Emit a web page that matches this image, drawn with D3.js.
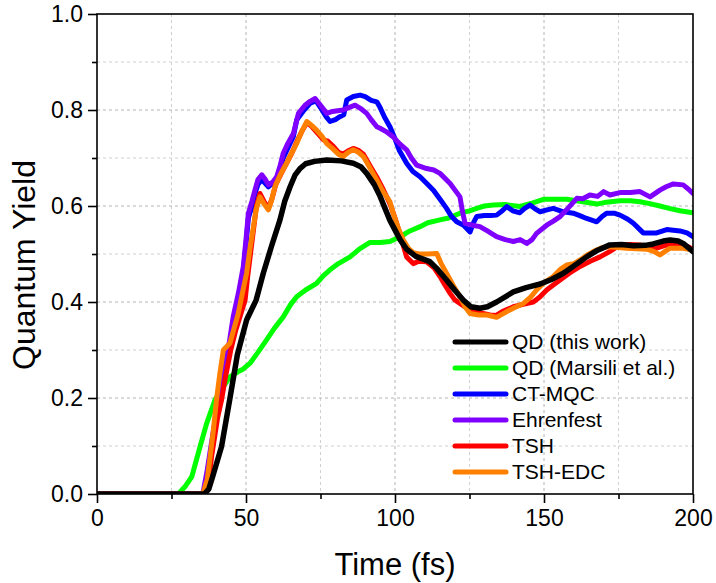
<!DOCTYPE html>
<html>
<head>
<meta charset="utf-8">
<script src="https://cdn.jsdelivr.net/npm/d3@7/dist/d3.min.js"></script>
<style>
  html, body { margin: 0; padding: 0; background: #fff; }
  svg { display: block; font-family: Arial, "Liberation Sans", sans-serif; }
</style>
</head>
<body>
<svg id="chart" width="716" height="583"></svg>
<script>
// ---- Data ----
const seriesNames = ["QD (this work)", "QD (Marsili et al.)", "CT-MQC", "Ehrenfest", "TSH", "TSH-EDC"];
const seriesColors = ["#000000", "#00ff00", "#0000ff", "#8000ff", "#ff0000", "#ff8000"];

const qdT = [0,36,37.5,39,41.8,44.6,47.1,50.2,53.4,55.8,58.5,61.4,63,64.8,66.5,68.1,70,73,77.1,82,86,88.5,90.5,93,95,98.3,101.7,103.9,107,111.7,114,117.3,120,122.9,125.5,128.5,131,134.1,139.7,144,148.7,152.5,156.5,160,164.3,168,172.1,176,180,184,186.7,190,192.3,195,196.7,200];
const qdV = [0,0,0.01,0.04,0.099,0.199,0.29,0.3625,0.404,0.46,0.515,0.571,0.61,0.64,0.665,0.678,0.688,0.693,0.696,0.694,0.689,0.682,0.668,0.645,0.62,0.57,0.53,0.51,0.495,0.484,0.47,0.446,0.425,0.404,0.39,0.387,0.39,0.40,0.421,0.43,0.4375,0.447,0.46,0.475,0.494,0.508,0.519,0.52,0.517,0.518,0.521,0.527,0.529,0.527,0.522,0.505];

const marT = [0,27.3,29.5,31.8,34.6,36.8,39.6,42,44.6,47.4,49,51.3,54,56.9,59.5,62.5,65,67,70,73.7,76,78.2,81,84.9,88,91.6,95,98.3,101.7,105,108.4,111,115.1,118,121.8,125,127.4,130,133,137,141.9,146,149.8,154,157.6,162,167.7,171,175.5,179,182.2,185.5,188.9,192,195.6,200];
const marV = [0,0,0.015,0.036,0.099,0.147,0.196,0.22,0.244,0.255,0.26,0.272,0.295,0.321,0.345,0.369,0.395,0.411,0.425,0.439,0.455,0.467,0.48,0.494,0.51,0.524,0.524,0.526,0.536,0.548,0.557,0.565,0.571,0.575,0.585,0.59,0.595,0.6,0.602,0.603,0.599,0.606,0.614,0.614,0.614,0.61,0.604,0.608,0.611,0.611,0.609,0.605,0.6,0.595,0.59,0.586];

const ctT = [0,36,37,39,41,43,44.5,45.7,47.5,49.1,50,50.8,52,53,54,55.3,57.5,60.3,62.5,64,65.9,67,69.5,71.5,73.5,75.5,77,78.2,80,81.5,82.8,83.8,86,88.3,90,92,93.9,95,96.5,98.3,100,101.5,103.9,106,108.4,110.5,112.9,115,117.3,119,120.7,123,125.2,126.3,127.4,130,132,134.1,136,137.5,139.5,141.9,143.5,145.3,147,148.7,151,153.1,156.5,159.8,162,164.3,167.7,169.5,171,173.5,175.5,178,180,181.5,183.3,186,187.8,191.2,195.6,198,200];
const ctV = [0,0,0.04,0.12,0.19,0.26,0.31,0.36,0.41,0.465,0.52,0.575,0.6,0.625,0.645,0.655,0.64,0.655,0.7,0.72,0.745,0.779,0.8,0.814,0.819,0.8,0.785,0.776,0.78,0.786,0.79,0.821,0.828,0.831,0.828,0.82,0.817,0.805,0.785,0.765,0.74,0.715,0.689,0.672,0.661,0.648,0.633,0.615,0.595,0.578,0.567,0.56,0.546,0.565,0.578,0.58,0.58,0.581,0.59,0.599,0.59,0.586,0.595,0.602,0.594,0.588,0.592,0.595,0.588,0.585,0.58,0.574,0.567,0.578,0.585,0.585,0.581,0.573,0.564,0.555,0.544,0.544,0.544,0.551,0.548,0.544,0.536];

const ehT = [0,35.5,37,39,41,43,44.5,45.7,47.5,49.1,50,50.8,52,53,54,55.3,56.5,57.5,59,60.3,61.5,62.5,64,65.9,67.6,69.8,71.5,73.2,75,77.1,79,82.6,84.5,86.6,88.5,90.5,92,93.9,95,97,99.4,101.5,103.9,105.5,107.3,110.6,113,115.1,118.5,120.5,121.8,122.6,123.5,126,128.5,131,134.1,137,139.7,142,144.2,146,147.5,150.9,153,155.4,158,161,163,165.4,168,170,172.1,175.5,179,182.2,185.6,188.9,191,193.4,196.7,198.5,200];
const ehV = [0,0,0.05,0.13,0.2,0.27,0.32,0.369,0.42,0.474,0.53,0.585,0.61,0.633,0.655,0.665,0.655,0.644,0.65,0.661,0.685,0.71,0.73,0.751,0.793,0.81,0.818,0.824,0.81,0.793,0.797,0.8,0.805,0.81,0.803,0.793,0.78,0.765,0.762,0.755,0.744,0.73,0.717,0.7,0.685,0.678,0.675,0.668,0.647,0.63,0.619,0.59,0.564,0.56,0.557,0.548,0.536,0.53,0.526,0.53,0.522,0.53,0.543,0.56,0.568,0.578,0.595,0.616,0.615,0.623,0.62,0.63,0.623,0.628,0.628,0.63,0.619,0.633,0.64,0.646,0.644,0.635,0.626];

const tshT = [0,36,37.5,38.5,39.5,40.5,41.8,43,44.9,46.5,48,49.7,50.5,51.5,52.5,53.5,54.7,56,57.5,58.7,60,62,63.6,65.5,67,68.7,70.4,72,74,76,77.5,79,81,82.6,84.3,86,87.7,89.4,91.5,93.9,96,98.3,100,101.5,103.9,106.1,108,110.6,113,115.1,116.8,118.5,120,121.8,123.5,125.2,128,131.9,134,136,139.7,143,146.4,148.5,150.9,153,155.4,158.5,162.1,165.5,168.8,172,175.5,179,182.2,185,187.8,191.2,195,198,200];
const tshV = [0,0,0.03,0.08,0.12,0.16,0.196,0.24,0.3,0.34,0.37,0.404,0.45,0.5,0.55,0.6,0.626,0.61,0.595,0.615,0.645,0.67,0.689,0.712,0.733,0.755,0.774,0.766,0.752,0.738,0.735,0.726,0.712,0.708,0.715,0.72,0.716,0.708,0.685,0.66,0.635,0.605,0.575,0.545,0.494,0.48,0.485,0.484,0.472,0.453,0.435,0.418,0.405,0.397,0.39,0.383,0.378,0.373,0.372,0.38,0.39,0.395,0.4,0.41,0.425,0.435,0.446,0.46,0.474,0.485,0.494,0.505,0.519,0.52,0.519,0.515,0.512,0.519,0.52,0.516,0.51];

const edcT = [0,35.5,37,38,39,40.1,41.2,42.4,44.6,46,47.4,48.5,50.2,51.3,52.5,53.5,54.7,56,57.5,58.5,59.7,61.5,63.6,65.3,67,68.7,70.4,72,73.7,75.5,77.1,79,81,82.6,84.3,86,87.7,89.4,91.5,93.9,96,98.3,99.4,101,102.8,104.5,106.1,108,111,114,115.5,117.3,119.5,121.8,123.5,125.2,128,130.8,134.1,137.5,140,143.1,145.5,147.5,150,153.1,155.5,157.6,160,162.1,164.5,166.5,169,171,174,177.7,181,184.5,187,188.9,190.5,192.3,196.7,200];
const edcV = [0,0,0.03,0.08,0.13,0.196,0.25,0.3,0.314,0.345,0.376,0.41,0.46,0.51,0.557,0.595,0.619,0.605,0.592,0.61,0.64,0.665,0.689,0.71,0.73,0.755,0.776,0.768,0.758,0.745,0.73,0.72,0.708,0.703,0.712,0.717,0.712,0.703,0.68,0.654,0.63,0.609,0.585,0.555,0.529,0.512,0.503,0.5,0.5,0.501,0.48,0.46,0.435,0.411,0.39,0.376,0.373,0.373,0.368,0.38,0.388,0.397,0.41,0.425,0.44,0.453,0.468,0.477,0.48,0.4875,0.498,0.505,0.512,0.515,0.514,0.512,0.511,0.51,0.505,0.498,0.505,0.512,0.512,0.508];

const xMajorTicks = [0, 50, 100, 150, 200];
const xMinorTicks = [25, 75, 125, 175];
const yMajorTicks = [0, 0.2, 0.4, 0.6, 0.8, 1.0];
const yMinorTicks = [0.1, 0.3, 0.5, 0.7, 0.9];
const xTitle = "Time (fs)";
const yTitle = "Quantum Yield";

// ---- Layout ----
const svg = d3.select("#chart");
const L = 97, R = 693, T = 14, B = 494;
const x = d3.scaleLinear().domain([0, 200]).range([L, R]);
const y = d3.scaleLinear().domain([0, 1]).range([B, T]);

// grid
const g = svg.append("g");
xMinorTicks.concat([50, 100, 150]).forEach(v => {
  g.append("line").attr("x1", x(v)).attr("x2", x(v)).attr("y1", T).attr("y2", B)
    .attr("stroke", xMinorTicks.includes(v) ? "#d0d0d0" : "#b4b4b4").attr("stroke-width", 1).attr("stroke-dasharray", "3,3");
});
yMinorTicks.concat([0.2, 0.4, 0.6, 0.8]).forEach(v => {
  g.append("line").attr("x1", L).attr("x2", R).attr("y1", y(v)).attr("y2", y(v))
    .attr("stroke", yMinorTicks.includes(v) ? "#d0d0d0" : "#b4b4b4").attr("stroke-width", 1).attr("stroke-dasharray", "3,3");
});

// series
const series = [
  { t: marT, v: marV, c: seriesColors[1], w: 5 },
  { t: ctT, v: ctV, c: seriesColors[2], w: 5 },
  { t: ehT, v: ehV, c: seriesColors[3], w: 5 },
  { t: tshT, v: tshV, c: seriesColors[4], w: 5 },
  { t: edcT, v: edcV, c: seriesColors[5], w: 5 },
  { t: qdT, v: qdV, c: seriesColors[0], w: 5.5 }
];
const line = d3.line().x(d => x(d[0])).y(d => y(d[1]));
const clip = svg.append("clipPath").attr("id", "clp").append("rect")
  .attr("x", L).attr("y", T - 3).attr("width", R - L).attr("height", B - T + 3);
const lg = svg.append("g").attr("clip-path", "url(#clp)");
series.forEach(s => {
  const pts = s.t.map((t, i) => [t, s.v[i]]);
  lg.append("path").attr("d", line(pts)).attr("fill", "none")
    .attr("stroke", s.c).attr("stroke-width", s.w)
    .attr("stroke-linejoin", "round").attr("stroke-linecap", "round");
});

// frame
svg.append("rect").attr("x", L).attr("y", T).attr("width", R - L).attr("height", B - T)
  .attr("fill", "none").attr("stroke", "#000").attr("stroke-width", 1.6);

// axes
const xAxis = d3.axisBottom(x).tickValues(xMajorTicks).tickSize(9).tickPadding(5).tickFormat(d3.format("d"));
const xa = svg.append("g").attr("transform", `translate(0,${B})`).call(xAxis);
const xAxisMinor = d3.axisBottom(x).tickValues(xMinorTicks).tickSize(5).tickFormat("");
const xm = svg.append("g").attr("transform", `translate(0,${B})`).call(xAxisMinor);
const yAxis = d3.axisLeft(y).tickValues(yMajorTicks).tickSize(9).tickPadding(5).tickFormat(d3.format(".1f"));
const ya = svg.append("g").attr("transform", `translate(${L},0)`).call(yAxis);
const yAxisMinor = d3.axisLeft(y).tickValues(yMinorTicks).tickSize(5).tickFormat("");
const ym = svg.append("g").attr("transform", `translate(${L},0)`).call(yAxisMinor);
[xa, xm, ya, ym].forEach(a => {
  a.select(".domain").remove();
  a.selectAll(".tick line").attr("stroke", "#000").attr("stroke-width", 1.6);
  a.selectAll("text").attr("font-size", 23).attr("fill", "#000")
    .attr("font-family", "Arial, 'Liberation Sans', sans-serif");
});
xa.selectAll("text").attr("dy", "0.8em");

// titles
svg.append("text").attr("x", (L + R) / 2).attr("y", 575).attr("text-anchor", "middle")
  .attr("font-size", 31).text(xTitle);
svg.append("text").attr("transform", `translate(35,265) rotate(-90)`).attr("text-anchor", "middle")
  .attr("font-size", 32).text(yTitle);

// legend
const leg = svg.append("g");
seriesNames.forEach((n, i) => {
  const yy = 342 + i * 26;
  leg.append("line").attr("x1", 455).attr("x2", 506).attr("y1", yy).attr("y2", yy)
    .attr("stroke", seriesColors[i]).attr("stroke-width", 5).attr("stroke-linecap", "round");
  leg.append("text").attr("x", 512).attr("y", yy).attr("dy", "0.35em")
    .attr("font-size", 21).text(n);
});
</script>
</body>
</html>
